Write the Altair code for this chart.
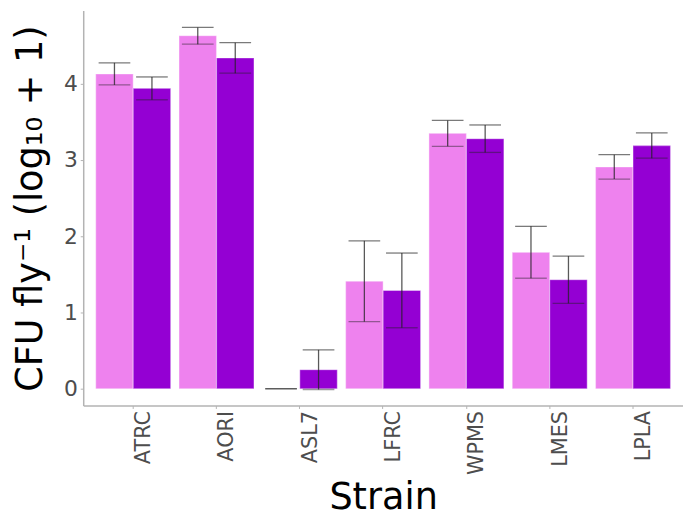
import altair as alt
import pandas as pd

strains = ["ATRC", "AORI", "ASL7", "LFRC", "WPMS", "LMES", "LPLA"]
groups = ["Group 1", "Group 2"]
mean_1 = [4.13, 4.63, 0.00, 1.41, 3.35, 1.79, 2.91]
mean_2 = [3.94, 4.34, 0.25, 1.29, 3.28, 1.43, 3.19]
err_1 = [0.145, 0.11, 0.00, 0.53, 0.17, 0.34, 0.16]
err_2 = [0.15, 0.20, 0.26, 0.49, 0.18, 0.31, 0.165]
colors = ["#EE82EE", "#9400D3"]

rows = []
for i, s in enumerate(strains):
    for g, m, e in ((groups[0], mean_1[i], err_1[i]), (groups[1], mean_2[i], err_2[i])):
        rows.append({"strain": s, "group": g, "mean": m, "lo": m - e, "hi": m + e})
df = pd.DataFrame(rows)

x_enc = alt.X(
    "strain:N",
    sort=strains,
    scale=alt.Scale(paddingInner=0.1, paddingOuter=0.15),
    title="Strain",
    axis=alt.Axis(
        labelAngle=270,
        labelAlign="right",
        labelBaseline="top",
        labelPadding=2,
        tickSize=3,
        titleX=303,
        titleY=104,
        titleBaseline="alphabetic",
        titleAlign="center",
    ),
)
xo = alt.XOffset("group:N", sort=groups, scale=alt.Scale(paddingInner=0, paddingOuter=0))
y_scale = alt.Scale(domain=[-0.22, 4.96], nice=False, zero=False)

bars = alt.Chart(df).mark_bar(stroke="white", strokeOpacity=0.35, strokeWidth=1.2).encode(
    x=x_enc,
    xOffset=xo,
    y=alt.Y(
        "mean:Q",
        scale=y_scale,
        title="CFU fly⁻¹ (log₁₀ + 1)",
        axis=alt.Axis(
            values=[0, 1, 2, 3, 4],
            format="d",
            tickSize=3,
            labelPadding=3,
            grid=False,
            titleX=-42,
            titleY=199.5,
            titleBaseline="alphabetic",
            titleAlign="center",
            titleAngle=270,
        ),
    ),
    y2=alt.datum(0),
    color=alt.Color("group:N", scale=alt.Scale(domain=groups, range=colors), legend=None),
)

rules = alt.Chart(df).mark_rule(color="#222222", opacity=0.75, strokeWidth=1.3).encode(
    x=alt.X("strain:N", sort=strains),
    xOffset=xo,
    y=alt.Y("lo:Q", scale=y_scale),
    y2="hi:Q",
)

caps_hi = alt.Chart(df).mark_tick(color="#222222", opacity=0.6, size=32, thickness=1.3).encode(
    x=alt.X("strain:N", sort=strains),
    xOffset=xo,
    y=alt.Y("hi:Q", scale=y_scale),
)
caps_lo = alt.Chart(df).mark_tick(color="#222222", opacity=0.45, size=32, thickness=1.3).encode(
    x=alt.X("strain:N", sort=strains),
    xOffset=xo,
    y=alt.Y("lo:Q", scale=y_scale),
)

chart = (
    alt.layer(bars, rules, caps_hi, caps_lo)
    .properties(
        width=606,
        height=399,
        autosize=alt.AutoSizeParams(type="none"),
        padding={"left": 76, "top": 0, "right": 0, "bottom": 110},
    )
    .configure_view(stroke=None)
    .configure_axis(
        labelFont="DejaVu Sans",
        titleFont="DejaVu Sans",
        labelFontSize=22,
        labelColor="#4d4d4d",
        titleFontSize=37,
        titleFontWeight="normal",
        titleColor="#000000",
        domainColor="#b3b3b3",
        domainWidth=1.5,
        tickColor="#b3b3b3",
        tickWidth=1,
    )
    .configure_axisX(labelFontSize=21)
)

chart.save("out.html", embed_options={"renderer": "svg", "actions": False})
